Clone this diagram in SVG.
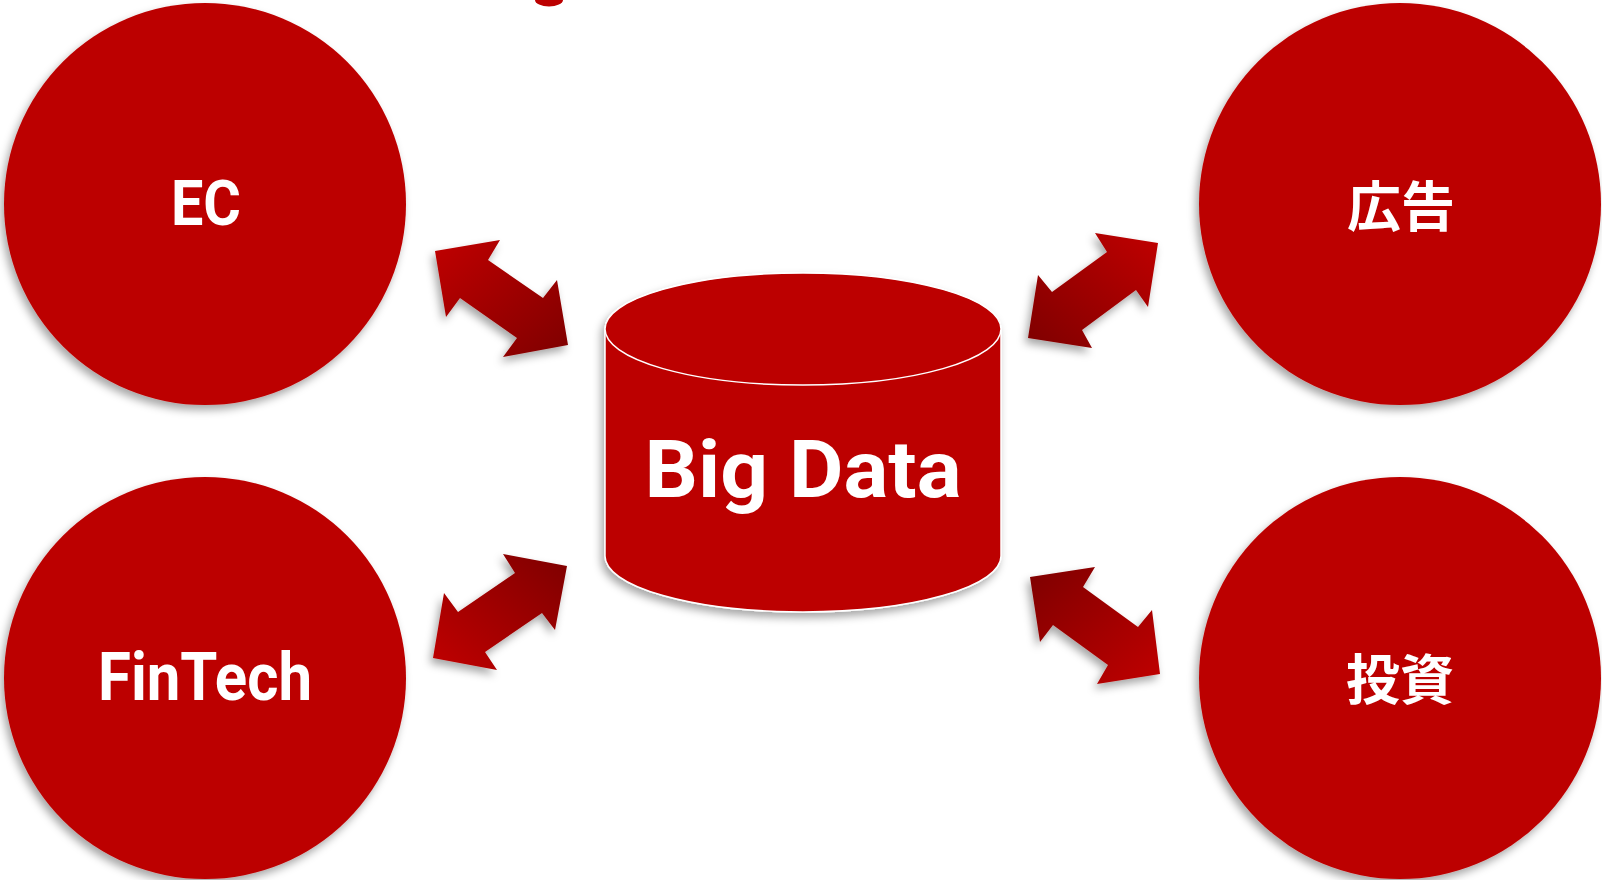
<svg xmlns="http://www.w3.org/2000/svg" width="1602" height="880" viewBox="0 0 1602 880">
  <defs>
    <filter id="sh" x="-20%" y="-20%" width="140%" height="140%">
      <feDropShadow dx="-3" dy="5" stdDeviation="4" flood-color="#000" flood-opacity="0.35"/>
    </filter>
    <linearGradient id="gTL" x1="0" y1="0" x2="1" y2="1">
      <stop offset="0" stop-color="#c00000"/>
      <stop offset="1" stop-color="#7e0000"/>
    </linearGradient>
    <linearGradient id="gTR" x1="1" y1="0" x2="0" y2="1">
      <stop offset="0" stop-color="#c00000"/>
      <stop offset="1" stop-color="#7e0000"/>
    </linearGradient>
    <linearGradient id="gBL" x1="0" y1="1" x2="1" y2="0">
      <stop offset="0" stop-color="#c00000"/>
      <stop offset="1" stop-color="#7e0000"/>
    </linearGradient>
    <linearGradient id="gBR" x1="1" y1="1" x2="0" y2="0">
      <stop offset="0" stop-color="#c00000"/>
      <stop offset="1" stop-color="#7e0000"/>
    </linearGradient>
  </defs>
  <style>
    .node { fill: #bc0000; filter: url(#sh); }
    .lbl { fill: #ffffff; font-family: Roboto, "Liberation Sans", sans-serif; font-weight: bold; text-anchor: middle; }
    .cjk { fill: #ffffff; font-family: "Noto Sans CJK JP", "Noto Sans", sans-serif; font-weight: bold; text-anchor: middle; }
    .arrow { filter: url(#sh); }
  </style>
  <rect width="1602" height="880" fill="#ffffff"/>
  <path d="M535,0 A14,6.5 0 0 0 563,0 Z" fill="#bc0000"/>

  <g id="connectors">
    <polygon class="arrow" fill="url(#gTL)" points="435,251 500,240 488,260 543,298 557,280 568,345 503,357 517,338 460,298 446,317"/>
    <polygon class="arrow" fill="url(#gTR)" points="1158,243 1095,233 1107,252 1052,292 1038,275 1028,338 1092,348 1082,330 1136,290 1148,307"/>
    <polygon class="arrow" fill="url(#gBL)" points="567,566 503,554 515,573 458,612 444,593 433,658 497,670 485,652 542,613 555,630"/>
    <polygon class="arrow" fill="url(#gBR)" points="1030,577 1095,567 1083,587 1138,627 1152,610 1160,674 1097,684 1108,665 1053,625 1040,642"/>
  </g>

  <g id="node-ec">
    <circle class="node" cx="205" cy="204" r="201"/>
    <text class="lbl" x="206" y="225" font-size="63" textLength="70" lengthAdjust="spacingAndGlyphs">EC</text>
  </g>

  <g id="node-fintech">
    <circle class="node" cx="205" cy="678" r="201"/>
    <text class="lbl" x="205" y="700" font-size="67" textLength="214" lengthAdjust="spacingAndGlyphs">FinTech</text>
  </g>

  <g id="node-ad">
    <circle class="node" cx="1400" cy="204" r="201"/>
    <text class="cjk" x="1401" y="227" font-size="54">広告</text>
  </g>

  <g id="node-invest">
    <circle class="node" cx="1400" cy="678" r="201"/>
    <text class="cjk" x="1400" y="700" font-size="54">投資</text>
  </g>

  <g id="node-bigdata">
    <path d="M605,329 L605,556 A198,56 0 0 0 1001,556 L1001,329 A198,56 0 0 0 605,329 Z" fill="#bc0000" stroke="#ffffff" stroke-width="1.5" filter="url(#sh)"/>
    <ellipse cx="803" cy="329" rx="198" ry="56" fill="#bc0000" stroke="#ffffff" stroke-width="1.5"/>
    <text class="lbl" x="803" y="497" font-size="80" textLength="317" lengthAdjust="spacingAndGlyphs">Big Data</text>
  </g>
</svg>
